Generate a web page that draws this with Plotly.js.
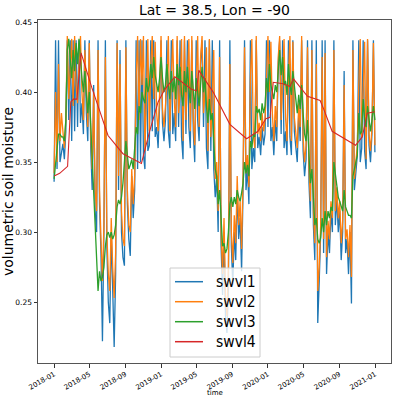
<!DOCTYPE html>
<html>
<head>
<meta charset="utf-8">
<script src="https://cdn.plot.ly/plotly-3.0.1.min.js"></script>
<style>html,body{margin:0;padding:0;background:#fff;}#chart{width:395px;height:400px;}</style>
</head>
<body>
<div id="chart"></div>
<script>
// Sampled every 5 days starting 2018-01-01
var startDate = '2018-01-01';
var stepDays = 5;

var swvl1 = [
.336,.437,.345,.437,.350,.356,.363,.352,.372,.437,
.380,.437,.365,.437,.372,.437,.375,.437,.378,.392,
.370,.437,.385,.365,.437,.360,.330,.405,.315,.300,
.437,.320,.285,.222,.300,.437,.290,.250,.235,.300,
.265,.218,.270,.437,.330,.430,.300,.282,.276,.437,
.320,.295,.283,.340,.310,.330,.437,.345,.437,.350,
.437,.355,.345,.437,.358,.362,.437,.372,.437,.368,
.375,.360,.390,.437,.378,.365,.380,.437,.372,.360,
.437,.370,.385,.365,.437,.375,.437,.368,.352,.437,
.370,.437,.375,.360,.437,.372,.350,.437,.380,.365,
.420,.437,.375,.437,.360,.345,.437,.358,.437,.345,
.325,.340,.300,.437,.290,.255,.300,.240,.228,.260,
.437,.290,.262,.300,.280,.330,.295,.310,.272,.330,
.437,.330,.345,.320,.437,.345,.360,.350,.437,.360,
.368,.355,.375,.362,.370,.437,.375,.437,.365,.375,
.355,.380,.365,.420,.437,.370,.437,.360,.372,.355,
.437,.368,.355,.437,.372,.360,.350,.385,.365,.437,
.358,.340,.352,.437,.335,.310,.437,.305,.280,.437,
.235,.265,.300,.437,.285,.437,.270,.300,.285,.315,
.300,.437,.305,.325,.300,.315,.280,.300,.415,.285,
.295,.270,.300,.249,.437,.330,.345,.355,.437,.350,
.360,.437,.358,.345,.437,.362,.350,.370,.437,.357
];

var swvl2 = [
.342,.400,.350,.420,.365,.385,.372,.360,.380,.440,
.395,.415,.438,.390,.440,.405,.392,.420,.440,.400,
.380,.430,.395,.375,.435,.370,.345,.400,.330,.315,
.430,.330,.295,.265,.305,.425,.300,.270,.258,.310,
.275,.253,.285,.435,.340,.420,.315,.295,.290,.432,
.330,.305,.300,.345,.320,.340,.410,.440,.380,.438,
.405,.440,.358,.400,.438,.372,.420,.440,.395,.436,
.385,.372,.398,.440,.388,.375,.390,.405,.440,.372,
.410,.438,.395,.375,.440,.385,.400,.438,.365,.440,
.380,.405,.438,.372,.440,.382,.362,.405,.440,.375,
.425,.440,.385,.400,.432,.358,.438,.368,.405,.430,
.338,.350,.315,.425,.300,.270,.310,.255,.240,.275,
.420,.300,.278,.312,.292,.340,.305,.322,.288,.340,
.432,.342,.355,.332,.410,.438,.370,.360,.440,.370,
.378,.365,.385,.372,.380,.410,.440,.400,.436,.385,
.365,.390,.375,.425,.440,.380,.405,.438,.382,.365,
.410,.440,.365,.436,.382,.370,.360,.392,.375,.440,
.368,.350,.362,.432,.345,.322,.430,.315,.292,.420,
.258,.275,.305,.425,.295,.428,.282,.308,.295,.322,
.310,.430,.315,.332,.310,.322,.292,.308,.405,.295,
.302,.282,.305,.268,.430,.338,.352,.362,.405,.438,
.368,.410,.436,.352,.438,.370,.358,.375,.435,.362
];

var swvl3 = [
.338,.350,.362,.370,.370,.368,.368,.365,.380,.430,
.438,.425,.410,.430,.415,.435,.420,.438,.420,.410,
.400,.415,.398,.385,.400,.375,.350,.330,.300,.275,
.258,.272,.265,.268,.275,.290,.298,.300,.296,.300,
.295,.298,.305,.318,.323,.320,.325,.335,.350,.365,
.355,.345,.348,.352,.345,.360,.375,.370,.390,.385,
.400,.395,.392,.410,.400,.405,.420,.410,.425,.412,
.405,.400,.410,.425,.410,.400,.405,.420,.405,.395,
.415,.400,.410,.395,.420,.405,.418,.398,.390,.415,
.400,.418,.402,.392,.415,.400,.388,.410,.398,.390,
.405,.418,.400,.410,.390,.378,.395,.380,.385,.365,
.345,.340,.320,.330,.305,.290,.292,.285,.288,.300,
.320,.325,.318,.325,.320,.330,.325,.322,.328,.335,
.350,.342,.348,.340,.365,.360,.370,.368,.390,.385,
.388,.380,.392,.385,.390,.410,.400,.420,.405,.400,
.395,.405,.400,.415,.430,.412,.425,.405,.408,.398,
.420,.405,.398,.415,.402,.395,.385,.398,.388,.405,
.385,.370,.365,.380,.355,.335,.345,.320,.305,.310,
.295,.292,.296,.310,.300,.315,.305,.315,.310,.318,
.315,.350,.340,.335,.325,.322,.318,.315,.330,.318,
.315,.312,.312,.310,.340,.345,.350,.355,.385,.370,
.372,.395,.380,.375,.390,.378,.372,.380,.390,.380
];

var swvl4Dates = [
'2018-01-01','2018-01-20','2018-02-16','2018-02-27','2018-03-08','2018-03-20','2018-04-03',
'2018-05-10','2018-07-04','2018-08-24','2018-10-26','2018-11-23','2018-12-22',
'2019-01-14','2019-02-17','2019-04-15','2019-05-02','2019-05-10','2019-06-28',
'2019-08-24','2019-10-20','2019-11-12','2019-11-28','2019-12-25','2020-01-08',
'2020-01-19','2020-02-22','2020-03-16','2020-03-28','2020-05-15','2020-06-27',
'2020-07-09','2020-08-07','2020-10-26','2020-11-18','2020-12-05','2020-12-31'
];
var swvl4 = [
.340,.342,.347,.393,.395,.395,.428,
.403,.369,.356,.349,.372,.393,
.402,.411,.402,.401,.4155,.400,
.377,.3667,.370,.372,.381,.382,
.407,.406,.404,.4095,.397,.394,
.388,.372,.362,.368,.385,.386
];

var seriesNames = ['swvl1', 'swvl2', 'swvl3', 'swvl4'];
var seriesColors = ['#1f77b4', '#ff7f0e', '#2ca02c', '#d62728'];

var tickDates = ['2018-01-01','2018-05-01','2018-09-01','2019-01-01','2019-05-01','2019-09-01','2020-01-01','2020-05-01','2020-09-01','2021-01-01'];
var tickText = ['2018-01','2018-05','2018-09','2019-01','2019-05','2019-09','2020-01','2020-05','2020-09','2021-01'];

function buildDates(n){
  var out = [];
  var t0 = new Date(startDate + 'T00:00:00Z').getTime();
  for (var i = 0; i < n; i++) {
    out.push(new Date(t0 + i*stepDays*86400000).toISOString().slice(0,10));
  }
  return out;
}
var dates = buildDates(swvl1.length);

var traces = [
  {x: dates, y: swvl1, name: seriesNames[0], type: 'scatter', mode: 'lines', line: {color: seriesColors[0], width: 1.3}},
  {x: dates, y: swvl2, name: seriesNames[1], type: 'scatter', mode: 'lines', line: {color: seriesColors[1], width: 1.3}},
  {x: dates, y: swvl3, name: seriesNames[2], type: 'scatter', mode: 'lines', line: {color: seriesColors[2], width: 1.3}},
  {x: swvl4Dates, y: swvl4, name: seriesNames[3], type: 'scatter', mode: 'lines', line: {color: seriesColors[3], width: 1.1}}
];

// Legend drawn in paper coordinates (matplotlib-style box)
var W = 395, H = 400, M = {l: 38, r: 4, t: 20, b: 37};
var pw = W - M.l - M.r, ph = H - M.t - M.b;
function px(x){ return (x - M.l) / pw; }
function py(y){ return (H - M.b - y) / ph; }
var legBox = {x0: 170, x1: 260, y0: 268, y1: 357};
var rowY = [281.7, 301.7, 321.7, 341.7];
var shapes = [{
  type: 'rect', xref: 'paper', yref: 'paper',
  x0: px(legBox.x0), x1: px(legBox.x1), y0: py(legBox.y1), y1: py(legBox.y0),
  fillcolor: 'rgba(255,255,255,0.8)', line: {color: '#cccccc', width: 1}, layer: 'above'
}];
var annotations = [];
for (var k = 0; k < seriesNames.length; k++) {
  shapes.push({type: 'line', xref: 'paper', yref: 'paper', x0: px(175), x1: px(203), y0: py(rowY[k]), y1: py(rowY[k]),
    line: {color: seriesColors[k], width: 1.5}, layer: 'above'});
  annotations.push({xref: 'paper', yref: 'paper', x: px(214), y: py(rowY[k]), xanchor: 'left', yanchor: 'middle',
    text: seriesNames[k], showarrow: false, font: {size: 15.5, family: 'DejaVu Sans Condensed, DejaVu Sans, sans-serif', color: '#000'}});
}
// x-axis title placed like matplotlib's
annotations.push({xref: 'paper', yref: 'paper', x: 0.5, y: py(393), xanchor: 'center', yanchor: 'middle',
  text: 'time', showarrow: false, font: {size: 7, family: 'DejaVu Sans, sans-serif', color: '#000'}});

var font = 'DejaVu Sans, sans-serif';
var layout = {
  width: W, height: H,
  margin: M,
  paper_bgcolor: '#fff', plot_bgcolor: '#fff',
  font: {family: font, color: '#000'},
  title: {text: 'Lat = 38.5, Lon = -90', font: {size: 14, family: font}, xref: 'paper', x: 0.5, xanchor: 'center', y: 0.974, yanchor: 'middle'},
  xaxis: {
    type: 'date', range: ['2017-11-07', '2021-02-24'],
    tickvals: tickDates, ticktext: tickText, tickangle: -30,
    tickfont: {size: 7, family: font},
    ticks: 'outside', ticklen: 3.5, tickcolor: '#000', tickwidth: 0.8,
    showgrid: false, zeroline: false,
    showline: true, linecolor: '#555', linewidth: 1, mirror: true
  },
  yaxis: {
    range: [0.2065, 0.4515],
    tickvals: [0.25, 0.30, 0.35, 0.40, 0.45], ticktext: ['0.25','0.30','0.35','0.40','0.45'],
    tickfont: {size: 7.5, family: font},
    ticks: 'outside', ticklen: 3.5, tickcolor: '#000', tickwidth: 0.8,
    showgrid: false, zeroline: false,
    showline: true, linecolor: '#555', linewidth: 1, mirror: true,
    title: {text: 'volumetric soil moisture', font: {size: 14, family: font}, standoff: 6}
  },
  showlegend: false,
  shapes: shapes,
  annotations: annotations
};

Plotly.newPlot('chart', traces, layout, {staticPlot: true, displayModeBar: false});
</script>
</body>
</html>
